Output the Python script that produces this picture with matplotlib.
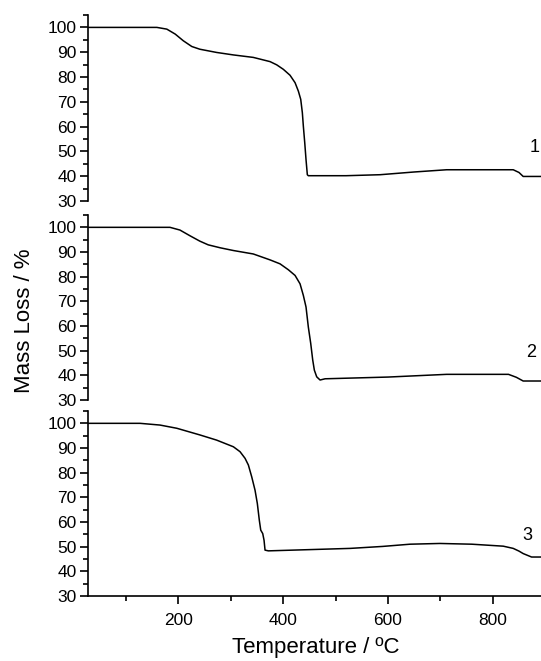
import matplotlib
matplotlib.use("Agg")
import matplotlib.pyplot as plt
from matplotlib.ticker import MultipleLocator

plt.rcParams['font.family'] = ['Liberation Sans', 'DejaVu Sans']

# TGA curves (temperature in degC, mass in %)
t1 = [27, 100, 159, 178, 194, 209.5, 225.6, 241, 273, 305, 343, 375, 387.7, 400.3, 413.1, 422.7, 429, 433.5,
      436.6, 438.5, 441.2, 443.6, 446.1, 448, 520, 585, 650, 712, 780, 839, 850, 858, 892]
m1 = [100, 100, 100, 99.3, 97.3, 94.6, 92.3, 91.2, 89.9, 88.9, 87.9, 86.2, 84.9, 83.1, 80.7, 77.7, 74.3, 71,
      65.6, 60.2, 53.4, 46.7, 40.6, 40.2, 40.2, 40.6, 41.7, 42.6, 42.6, 42.6, 41.5, 39.9, 39.9]

t2 = [27, 100, 184, 203, 222, 241, 257, 280, 305, 343, 375, 394, 409.9, 422.7, 432.2, 438.5, 443.6, 448, 452.6,
      456.4, 459.5, 464, 470.4, 480, 600, 712, 830, 845, 858, 892]
m2 = [100, 100, 100, 98.9, 96.6, 94.4, 92.9, 91.7, 90.6, 89.2, 86.8, 85.2, 82.8, 80.5, 77.1, 72.4, 67.7, 59.6, 52.9,
      46.2, 42.1, 39.4, 38.1, 38.6, 39.3, 40.4, 40.4, 39.2, 37.7, 37.7]

t3 = [27, 80, 127, 165, 197, 241, 273, 305, 317.7, 327.3, 333.6, 340, 346.3, 350.7, 354.5, 357.2, 361, 363.5,
      365.4, 371.7, 450, 528, 590, 642, 699, 760, 820, 839, 850, 858, 874, 892]
m3 = [100, 100, 100, 99.3, 98, 95.3, 93.2, 90.5, 88.5, 85.8, 83.1, 78.3, 72.9, 67.5, 60.7, 56.7, 55.3, 52.6,
      48.6, 48.3, 48.8, 49.3, 50.1, 51, 51.3, 51, 50.2, 49.3, 48.2, 47.2, 45.8, 45.8]

curves = [(t1, m1, '1'), (t2, m2, '2'), (t3, m3, '3')]
label_pos = [(879, 48.3), (874, 45.8), (866, 51)]

fig = plt.figure(figsize=(5.41, 6.61), dpi=100)
W, H = 541, 661
left = 87.7 / W
width = 1.0 - left
tops = [15, 215, 411]
bottoms = [201, 400, 596]

for i, (t, m, name) in enumerate(curves):
    ax = fig.add_axes([left, 1 - bottoms[i] / H, width, (bottoms[i] - tops[i]) / H])
    ax.plot(t, m, color='black', linewidth=1.1)
    ax.set_xlim(27, 892)
    ax.set_ylim(30, 105)
    ax.yaxis.set_minor_locator(MultipleLocator(5))
    ax.set_yticks(range(30, 101, 10))
    ax.xaxis.set_major_locator(MultipleLocator(200))
    ax.xaxis.set_minor_locator(MultipleLocator(100))
    ax.spines['top'].set_visible(False)
    ax.spines['right'].set_visible(False)
    ax.spines['left'].set_linewidth(1.2)
    ax.tick_params(axis='y', which='major', length=6, width=1.2, labelsize=12.5, pad=2)
    ax.tick_params(axis='y', which='minor', length=3.5, width=1.2)
    ax.tick_params(axis='x', which='major', length=6, width=1.2, labelsize=12.5, pad=6)
    ax.tick_params(axis='x', which='minor', length=3.5, width=1.2)
    if i < 2:
        ax.spines['bottom'].set_visible(False)
        ax.tick_params(axis='x', which='both', bottom=False, labelbottom=False)
    else:
        ax.spines['bottom'].set_linewidth(1.2)
    ax.text(label_pos[i][0], label_pos[i][1], name, fontsize=13, ha='center', va='bottom', clip_on=False)
    ax.patch.set_visible(False)

fig.text(25 / W, 1 - 321 / H, 'Mass Loss / %', rotation=90, fontsize=16, ha='center', va='center')
fig.text(316 / W, 1 - 648 / H, 'Temperature / ºC', fontsize=16, ha='center', va='center')

fig.savefig('out.png', dpi=100)
